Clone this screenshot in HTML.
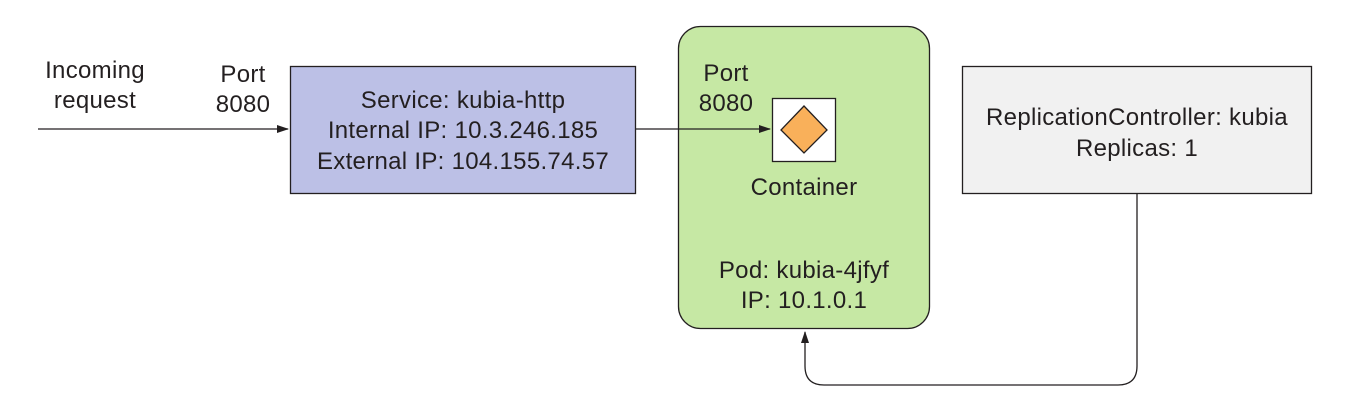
<!DOCTYPE html>
<html><head><meta charset="utf-8"><style>
body{margin:0;background:#fff;}
svg text{font-family:"Liberation Sans",sans-serif;font-size:24px;letter-spacing:0.3px;fill:#231f20;}
</style></head><body>
<svg width="1349" height="408" viewBox="0 0 1349 408">
<defs><marker id="a" markerWidth="12" markerHeight="8" refX="11" refY="4" orient="auto" markerUnits="userSpaceOnUse"><path d="M0,0 L12,4 L0,8 Z" fill="#231f20"/></marker></defs>
<rect x="290.5" y="66.5" width="345" height="127" fill="#bcc0e6" stroke="#231f20" stroke-width="1.3"/>
<rect x="678.5" y="26.5" width="251" height="302" rx="22" fill="#c6e8a4" stroke="#231f20" stroke-width="1.3"/>
<rect x="962.5" y="66.5" width="349" height="127" fill="#f1f1f1" stroke="#231f20" stroke-width="1.3"/>
<rect x="772.5" y="98.5" width="63" height="63" fill="#fff" stroke="#231f20" stroke-width="1.3"/>
<path d="M804,106 L827,130 L804,153 L781,130 Z" fill="#f9b05a" stroke="#231f20" stroke-width="1.3"/>
<line x1="38" y1="129" x2="288" y2="129" stroke="#231f20" stroke-width="1.3" marker-end="url(#a)"/>
<line x1="636" y1="129" x2="770" y2="129" stroke="#231f20" stroke-width="1.3" marker-end="url(#a)"/>
<path d="M1137,194 L1137,366 Q1137,385 1118,385 L824,385 Q805,385 805,366 L805,332" fill="none" stroke="#231f20" stroke-width="1.3" marker-end="url(#a)"/>
<text x="95" y="78" text-anchor="middle">Incoming</text>
<text x="95" y="108" text-anchor="middle">request</text>
<text x="243" y="82" text-anchor="middle">Port</text>
<text x="243" y="112" text-anchor="middle">8080</text>
<text x="463" y="108" text-anchor="middle">Service: kubia-http</text>
<text x="463" y="138" text-anchor="middle">Internal IP: 10.3.246.185</text>
<text x="463" y="169" text-anchor="middle">External IP: 104.155.74.57</text>
<text x="726" y="81" text-anchor="middle">Port</text>
<text x="726" y="111" text-anchor="middle">8080</text>
<text x="804" y="195" text-anchor="middle">Container</text>
<text x="804" y="278" text-anchor="middle">Pod: kubia-4jfyf</text>
<text x="804" y="308" text-anchor="middle">IP: 10.1.0.1</text>
<text x="1137" y="125" text-anchor="middle">ReplicationController: kubia</text>
<text x="1137" y="156" text-anchor="middle">Replicas: 1</text>
</svg>
</body></html>
